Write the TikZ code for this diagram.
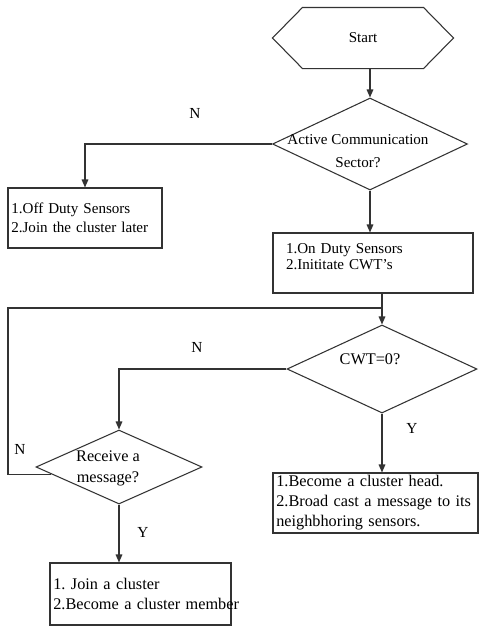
\documentclass[tikz,border=0pt]{standalone}
\usepackage{fontspec}
\setmainfont{Liberation Serif}
\usetikzlibrary{arrows.meta, positioning, shapes, calc}
\frenchspacing

\begin{document}
\begin{tikzpicture}[x=0.75pt, y=-0.75pt, line width=0.8pt, color=black!80, text=black,
    >={Triangle[length=6pt, width=5pt]},
    dec/.style={diamond, draw, inner sep=0pt},
    box/.style={rectangle, draw, inner xsep=2.5pt, inner ysep=0pt, align=left},
    upper/.style={font=\fontsize{11.3pt}{14pt}\selectfont},
    lower/.style={font=\fontsize{12.2pt}{15pt}\selectfont},
    lbl/.style={font=\fontsize{11.5pt}{14pt}\selectfont}]
    \useasboundingbox (0,0) rectangle (479,626);

    % Start
    \node[upper, minimum width=90pt, minimum height=45pt] (start) at (363,38) {Start};
    \draw (start.north west) -- (start.north east) -- ([xshift=22.5pt]start.east)
        -- (start.south east) -- (start.south west) -- ([xshift=-22.5pt]start.west) -- cycle;

    % Active sector?
    \node[dec, minimum width=146.25pt, minimum height=69pt] (act) at (370,144) {};
    \node[upper, align=center, font=\fontsize{11.3pt}{17pt}\selectfont] (acttext) at (358,151) {Active Communication\\Sector?};

    % Off duty
    \node[box, upper, text width=110.5pt, minimum height=45pt] (off) at (85,218)
        {1.Off Duty Sensors\\2.Join the cluster later};

    % On duty
    \node[box, upper, inner xsep=9.75pt, text width=130.5pt, minimum height=45pt,
        font=\fontsize{11.3pt}{12.5pt}\selectfont] (on) at (373,263)
        {1.On Duty Sensors\\2.Inititate CWT's\\[-3pt]\mbox{}};

    % CWT=0?
    \node[dec, minimum width=142.5pt, minimum height=66pt] (cwt) at (382,369) {};
    \node[lower] (cwttext) at (370,359) {CWT=0?};

    % Receive?
    \node[dec, minimum width=124.5pt, minimum height=55.5pt] (recv) at (119,467) {};
    \node[lower, align=center, font=\fontsize{12.2pt}{15.75pt}\selectfont] (recvtext) at (108,468) {Receive a\\message?};

    % Cluster head
    \node[box, lower, text width=148.75pt, minimum height=45pt] (head) at (375.5,503)
        {1.Become a cluster head.\\\mbox{2.Broad cast a message to its}\\neighbhoring sensors.};

    % Cluster member
    \node[box, lower, text width=130.75pt, minimum height=46.5pt] (mem) at (140.5,594)
        {1. Join a cluster\\\mbox{2.Become a cluster member}};

    % Labels
    \node[lbl] (n1) at (195,113) {N};
    \node[lbl] (n2) at (197,347) {N};
    \node[lbl] (n3) at (20,449) {N};
    \node[lbl] (y1) at (412,428) {Y};
    \node[lbl] (y2) at (143,532) {Y};

    % Connectors
    \coordinate (loop) at (8,308);
    \draw[->] (start.south -| act.north) -- (act.north);
    \draw[->] (act.west) -| (off.north);
    \draw[->] (act.south) -- (act.south |- on.north);
    \draw[->] (on.south -| cwt.north) -- (cwt.north);
    \draw ($(recv.west)!0.19!(recv.south)$) -| (loop) -- (cwt.north |- loop);
    \draw[->] (cwt.west) -| (recv.north);
    \draw[->] (cwt.south) -- (cwt.south |- head.north);
    \draw[->] (recv.south) -- (recv.south |- mem.north);
\end{tikzpicture}
\end{document}
